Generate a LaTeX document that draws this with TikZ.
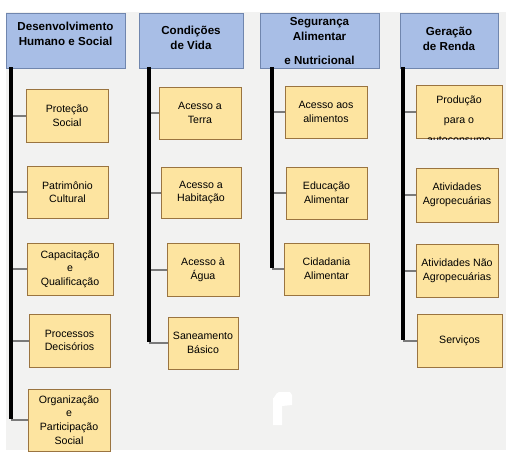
\documentclass[tikz,border=0pt]{standalone}
\usepackage{fontspec}
\setmainfont{Liberation Sans}
\definecolor{bgc}{HTML}{F2F2F1}
\definecolor{hdrfill}{HTML}{A8BEE6}
\definecolor{hdrline}{HTML}{7086AE}
\definecolor{boxfill}{HTML}{FDE4A0}
\definecolor{boxline}{HTML}{9A7440}
\definecolor{connc}{HTML}{7A7A7A}
\tikzset{
  hdr/.style={draw=hdrline, fill=hdrfill, line width=0.8pt, inner sep=0pt},
  hdrtext/.style={font=\bfseries\fontsize{11.6}{15}\selectfont, align=center, inner sep=0pt, text=black},
  item/.style={draw=boxline, fill=boxfill, line width=0.8pt, inner sep=0pt, align=center,
    font=\fontsize{10.6}{13.6}\selectfont, text=black},
  spine/.style={line width=4pt, black},
  conn/.style={line width=2pt, connc}
}
\begin{document}
\begin{tikzpicture}[x=1pt,y=-1pt]
\useasboundingbox (0,0) rectangle (506,458);
\fill[white] (0,0) rectangle (506,458);
\fill[bgc] (6,12) rectangle (506,450);

% headers
\node[hdr, minimum width=119pt, minimum height=55pt] (h1) at (65.5,40.5) {};
\node[hdrtext] (t1) at (65.5,33.5) {Desenvolvimento\\Humano e Social};
\node[hdr, minimum width=104pt, minimum height=55pt] (h2) at (191,40.5) {};
\node[hdrtext] (t2) at (191,37.5) {Condições\\de Vida};
\node[hdr, minimum width=119pt, minimum height=55pt] (h3) at (319.5,40.5) {};
\node[hdrtext] (t3a) at (319.5,29.5) {Segurança\\Alimentar};
\node[hdrtext] (t3b) at (319.5,60) {e Nutricional};
\node[hdr, minimum width=98pt, minimum height=55pt] (h4) at (449,40.5) {};
\node[hdrtext] (t4) at (449,39) {Geração\\de Renda};

% column 1
\node[item, minimum width=82pt, minimum height=53pt] (a1) at (67,115.5) {Proteção\\Social};
\node[item, minimum width=81pt, minimum height=52pt] (a2) at (67.5,192) {Patrimônio\\Cultural};
\node[item, minimum width=86pt, minimum height=52pt] (a3) at (70,269) {Capacitação\\e\\Qualificação};
\node[item, minimum width=81pt, minimum height=53pt] (a4) at (69.5,340.5) {Processos\\Decisórios};
\node[item, minimum width=82pt, minimum height=62pt] (a5) at (69,420) {Organização\\e\\Participação\\Social};

% column 2
\node[item, minimum width=82pt, minimum height=52pt] (b1) at (200,113) {Acesso a\\Terra};
\node[item, minimum width=80pt, minimum height=51pt] (b2) at (201,192.5) {Acesso a\\Habitação};
\node[item, minimum width=72pt, minimum height=53pt] (b3) at (203,269.5) {Acesso à\\Água};
\node[item, minimum width=70pt, minimum height=52pt] (b4) at (203,343) {Saneamento\\Básico};

% column 3
\node[item, minimum width=82pt, minimum height=52pt] (c1) at (326,112) {Acesso aos\\alimentos};
\node[item, minimum width=81pt, minimum height=52pt] (c2) at (326.5,193) {Educação\\Alimentar};
\node[item, minimum width=85pt, minimum height=52pt] (c3) at (326.5,269) {Cidadania\\Alimentar};

% column 4
\node[item, minimum width=86pt, minimum height=53pt] (d1) at (459,111.5) {};
\node[item, draw=none, fill=none] (d1a) at (459,100.5) {Produção};
\node[item, draw=none, fill=none] (d1b) at (459,122) {para o};
\begin{scope}
  \clip (d1.north west) rectangle ([yshift=-1pt]d1.south east);
  \node[item, draw=none, fill=none] (d1c) at (459,140.5) {autoconsumo};
\end{scope}
\node[item, minimum width=82pt, minimum height=54pt] (d2) at (457,195) {Atividades\\Agropecuárias};
\node[item, minimum width=82pt, minimum height=53pt] (d3) at (457,270.5) {Atividades Não\\Agropecuárias};
\node[item, minimum width=85pt, minimum height=53pt] (d4) at (459.5,340.5) {Serviços};

% spines
\coordinate (s1) at (11,67);
\coordinate (s2) at (149,67);
\coordinate (s3) at (272,67);
\coordinate (s4) at (403,67);

\foreach \n in {a1,a2,a3,a4,a5} \draw[conn] (s1 |- \n.west) -- (\n.west);
\foreach \n in {b1,b2,b3,b4} \draw[conn] (s2 |- \n.west) -- (\n.west);
\foreach \n in {c1,c2,c3} \draw[conn] (s3 |- \n.west) -- (\n.west);
\foreach \n in {d1,d2,d3,d4} \draw[conn] (s4 |- \n.west) -- (\n.west);

\draw[spine] (s1) -- ([yshift=1pt]s1 |- a5.west);
\draw[spine] (s2) -- ([yshift=1pt]s2 |- b4.west);
\draw[spine] (s3) -- ([yshift=1pt]s3 |- c3.west);
\draw[spine] (s4) -- ([yshift=1pt]s4 |- d4.west);

% white artifact
\fill[white] (273,425) -- (273,398) to[out=-90,in=180] (279,392) -- (290,392) -- (292,395) -- (292,405) -- (282,406) -- (282,425) -- cycle;
\end{tikzpicture}
\end{document}
